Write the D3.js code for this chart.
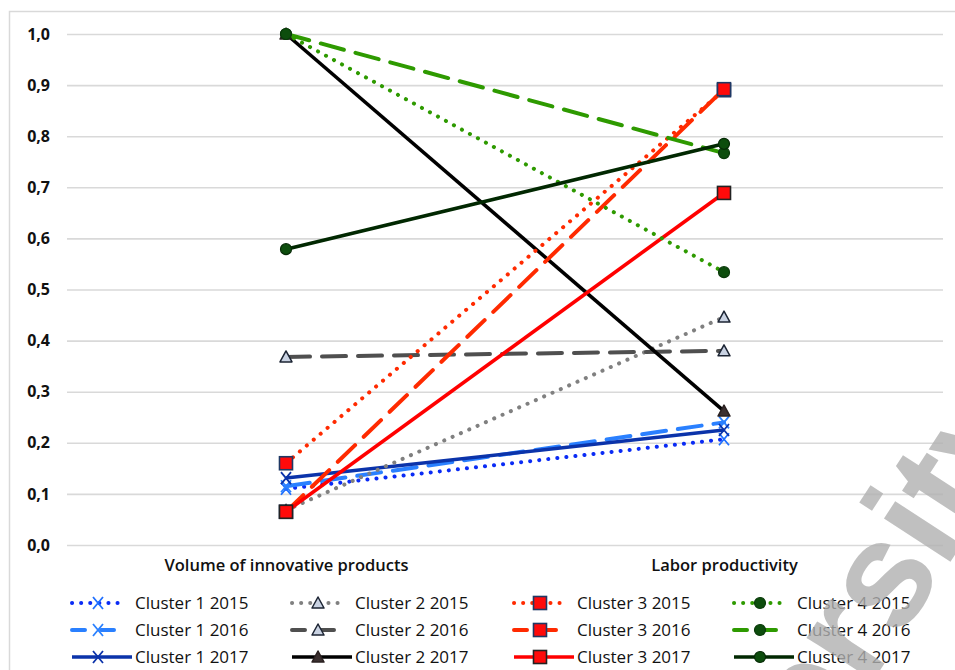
<!DOCTYPE html>
<html lang="en">
<head>
  <meta charset="UTF-8">
  <title>Clusters</title>
  <script src="https://d3js.org/d3.v7.min.js"></script>
  <style>
    body { margin: 0; background: #fff; }
    svg { display: block; }
  </style>
</head>
<body>
  <div id="chart"></div>

  <script>
    // data
    const categories = ["Volume of innovative products", "Labor productivity"];
    const yTicks = [0, 0.1, 0.2, 0.3, 0.4, 0.5, 0.6, 0.7, 0.8, 0.9, 1.0];
    const seriesNames = [
      "Cluster 1 2015", "Cluster 1 2016", "Cluster 1 2017",
      "Cluster 2 2015", "Cluster 2 2016", "Cluster 2 2017",
      "Cluster 3 2015", "Cluster 3 2016", "Cluster 3 2017",
      "Cluster 4 2015", "Cluster 4 2016", "Cluster 4 2017"
    ];
    const cluster1 = [[0.110, 0.207], [0.115, 0.240], [0.131, 0.225]];
    const cluster2 = [[0.068, 0.446], [0.368, 0.380], [1.000, 0.262]];
    const cluster3 = [[0.160, 0.890], [0.065, 0.892], [0.065, 0.689]];
    const cluster4 = [[1.000, 0.534], [1.000, 0.767], [0.579, 0.785]];

    // look of each series (same order as seriesNames)
    const styles = [
      { stroke: "#0a2bf5", dash: "dot",   marker: "x",   mStroke: "#1f6fff" },
      { stroke: "#2a80ff", dash: "dash",  marker: "x",   mStroke: "#2a80ff" },
      { stroke: "#0b33aa", dash: "solid", marker: "x",   mStroke: "#0b33aa" },
      { stroke: "#808080", dash: "dot",   marker: "tri", fill: "#c9d2e2", mStroke: "#1c2433" },
      { stroke: "#4f4f4f", dash: "dash",  marker: "tri", fill: "#c9d2e2", mStroke: "#1c2433" },
      { stroke: "#000000", dash: "solid", marker: "tri", fill: "#3b3030", mStroke: "#2a2020" },
      { stroke: "#ff2a00", dash: "dot",   marker: "sq",  fill: "#ff0a0a", mStroke: "#1f3864" },
      { stroke: "#ff2a00", dash: "dash",  marker: "sq",  fill: "#ff0a0a", mStroke: "#1f3864" },
      { stroke: "#ff0000", dash: "solid", marker: "sq",  fill: "#ff0a0a", mStroke: "#222222" },
      { stroke: "#2e9a00", dash: "dot",   marker: "dot", fill: "#0d4d0d", mStroke: "#0a3a0a" },
      { stroke: "#2e9a00", dash: "dash",  marker: "dot", fill: "#0d4d0d", mStroke: "#0a3a0a" },
      { stroke: "#012801", dash: "solid", marker: "dot", fill: "#0d4d0d", mStroke: "#062a06" }
    ];

    const allValues = [...cluster1, ...cluster2, ...cluster3, ...cluster4];
    const series = seriesNames.map((name, i) => ({
      name: name,
      values: allValues[i].map((v, j) => ({ cat: categories[j], v: v })),
      style: styles[i]
    }));

    const width = 955, height = 670;
    const plot = { left: 67, right: 943, top: 34, bottom: 545 };

    const svg = d3.select("#chart").append("svg")
      .attr("width", width)
      .attr("height", height);

    // outer frame of the chart area
    svg.append("path")
      .attr("d", `M9.5,${height} V11.5 H${width}`)
      .attr("fill", "none")
      .attr("stroke", "#d9d9d9")
      .attr("stroke-width", 1.5);

    const x = d3.scalePoint()
      .domain(categories)
      .range([plot.left, plot.right])
      .padding(0.5);

    const y = d3.scaleLinear()
      .domain([0, 1])
      .range([plot.bottom, plot.top]);

    const fmt = d => d3.format(".1f")(d).replace(".", ",");

    // gridlines + tick labels
    const yAxis = d3.axisLeft(y)
      .tickValues(yTicks)
      .tickSize(-(plot.right - plot.left))
      .tickPadding(17)
      .tickFormat(fmt);

    const gy = svg.append("g")
      .attr("transform", `translate(${plot.left},0)`)
      .call(yAxis);
    gy.select(".domain").remove();
    gy.selectAll(".tick line")
      .attr("stroke", "#d9d9d9")
      .attr("stroke-width", 1.6);
    gy.selectAll(".tick text")
      .attr("fill", "#111")
      .style("font-family", "'Open Sans', sans-serif")
      .style("font-weight", 700)
      .style("font-size", "16px");

    // category labels
    const xAxis = d3.axisBottom(x).tickSize(0).tickPadding(14);
    const gx = svg.append("g")
      .attr("transform", `translate(0,${plot.bottom})`)
      .call(xAxis);
    gx.select(".domain").remove();
    gx.selectAll(".tick text")
      .attr("fill", "#111")
      .style("font-family", "'Open Sans', sans-serif")
      .style("font-weight", 600)
      .style("font-size", "16.5px");

    const dashFor = {
      dot: { arr: "0.1 9", cap: "round", w: 4 },
      dash: { arr: "24 12", cap: "round", w: 4 },
      solid: { arr: null, cap: "butt", w: 3.6 }
    };

    function drawMarker(g, st, cx, cy) {
      if (st.marker === "sq") {
        g.append("rect")
          .attr("x", cx - 6.5).attr("y", cy - 6.5)
          .attr("width", 13).attr("height", 13)
          .attr("fill", st.fill).attr("stroke", st.mStroke).attr("stroke-width", 1.6);
      } else if (st.marker === "dot") {
        g.append("circle")
          .attr("cx", cx).attr("cy", cy).attr("r", 5.5)
          .attr("fill", st.fill).attr("stroke", st.mStroke).attr("stroke-width", 1.2);
      } else if (st.marker === "tri") {
        g.append("path")
          .attr("d", `M${cx},${cy - 6} L${cx + 6},${cy + 5} L${cx - 6},${cy + 5} Z`)
          .attr("fill", st.fill).attr("stroke", st.mStroke).attr("stroke-width", 1.5)
          .attr("stroke-linejoin", "round");
      } else {
        g.append("path")
          .attr("d", `M${cx - 5},${cy - 6} L${cx + 5},${cy + 6} M${cx + 5},${cy - 6} L${cx - 5},${cy + 6}`)
          .attr("stroke", st.mStroke).attr("stroke-width", 1.8)
          .attr("fill", "none");
      }
    }

    const line = d3.line()
      .x(d => x(d.cat))
      .y(d => y(d.v));

    const lines = svg.append("g");
    series.forEach(s => {
      const g = lines.append("g");
      const d = dashFor[s.style.dash];
      g.append("path")
        .attr("d", line(s.values))
        .attr("fill", "none")
        .attr("stroke", s.style.stroke)
        .attr("stroke-width", d.w)
        .attr("stroke-linecap", d.cap)
        .attr("stroke-dasharray", d.arr);
      s.values.forEach(p => drawMarker(g, s.style, x(p.cat), y(p.v)));
    });

    // legend: 4 columns (one per cluster), 3 rows (years)
    const legCols = [70, 290, 512, 732];
    const legRows = [603, 630, 657];
    const legend = svg.append("g");
    series.forEach((s, i) => {
      const lx = legCols[Math.floor(i / 3)];
      const ly = legRows[i % 3];
      const g = legend.append("g");
      const d = dashFor[s.style.dash];
      const len = s.style.dash === "solid" ? 64 : 57;
      g.append("line")
        .attr("x1", lx + 2).attr("x2", lx + len - 2)
        .attr("y1", ly).attr("y2", ly)
        .attr("stroke", s.style.stroke)
        .attr("stroke-width", d.w)
        .attr("stroke-linecap", d.cap)
        .attr("stroke-dasharray", s.style.dash === "dash" ? "13 16" : d.arr);
      drawMarker(g, s.style, lx + 28, ly);
      g.append("text")
        .attr("x", lx + 65)
        .attr("y", ly)
        .attr("dy", "0.35em")
        .attr("fill", "#111")
        .style("font-family", "'Open Sans', sans-serif")
        .style("font-size", "17px")
        .text(s.name);
    });

    // faint diagonal watermark across the lower right corner
    svg.append("text")
      .attr("transform", "translate(645,1032) rotate(-57)")
      .attr("fill", "#b0b0b0")
      .attr("fill-opacity", 0.8)
      .style("font-family", "'Liberation Sans', sans-serif")
      .style("font-weight", 700)
      .style("font-size", "150px")
      .text("University");
  </script>
</body>
</html>
